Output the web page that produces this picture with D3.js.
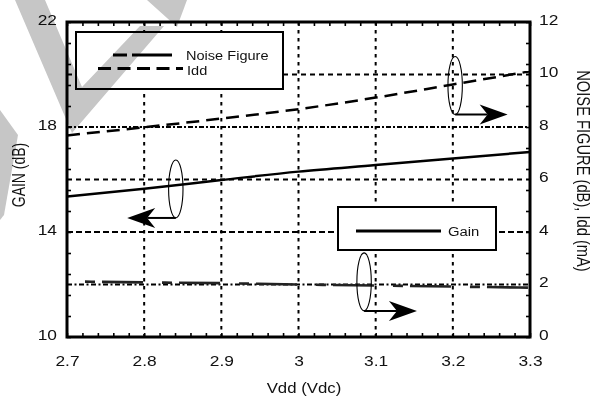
<!DOCTYPE html>
<html><head><meta charset="utf-8">
<script src="https://cdn.jsdelivr.net/npm/d3@7"></script>
<style>
html,body{margin:0;padding:0;background:#fff;}
svg{display:block;font-family:"Liberation Sans",Arial,Helvetica,sans-serif;}
</style></head><body>
<svg id="chart" width="598" height="402"></svg>
<script>
// ---- data ----
const vdd = [2.7, 2.8, 2.9, 3.0, 3.1, 3.2, 3.3];
const gainDb = [15.35, 15.65, 15.98, 16.3, 16.55, 16.8, 17.05];
const noiseFigureDb = [2.12, 2.08, 2.05, 2.0, 1.96, 1.92, 1.88];
const iddMa = [7.68, 7.99, 8.32, 8.68, 9.12, 9.62, 10.12];
const xTickLabels = [2.7, 2.8, 2.9, 3.0, 3.1, 3.2, 3.3];
const leftTickLabels = [10, 14, 18, 22];
const rightTickLabels = [0, 2, 4, 6, 8, 10, 12];
const gainGrid = [12, 14, 16, 18, 20];
const vddGrid = [2.8, 2.9, 3.0, 3.1, 3.2];

// ---- layout ----
const L = 67, R = 530, T = 22, B = 337;
const svg = d3.select("#chart");
const x = d3.scaleLinear().domain([2.7, 3.3]).range([L, R]);
const yL = d3.scaleLinear().domain([10, 22]).range([B, T]);
const yR = d3.scaleLinear().domain([0, 12]).range([B, T]);

const xMinor = d3.range(0, 31).map(i => 2.7 + i * 0.02);
const lMinor = d3.range(0, 16).map(i => 10 + i * 0.8);
const rMinor = d3.range(0, 16).map(i => i * 0.8);

svg.append("rect").attr("width", 598).attr("height", 402).attr("fill", "#fff");

// ---- grid ----
const hDash = {12: "5,2.5,2,2.5", 14: "6,3", 16: "5,4", 18: "5,2,2,2", 20: "5,4"};
svg.append("g").selectAll("line").data(gainGrid).join("line")
  .attr("x1", L).attr("x2", R).attr("y1", d => yL(d)).attr("y2", d => yL(d))
  .attr("stroke", "#000").attr("stroke-width", 1.8).attr("stroke-dasharray", d => hDash[d]);
svg.append("g").selectAll("line").data(vddGrid).join("line")
  .attr("x1", d => x(d)).attr("x2", d => x(d)).attr("y1", T).attr("y2", B)
  .attr("stroke", "#000").attr("stroke-width", 2).attr("stroke-dasharray", "3.5,4.5");

// ---- series ----
const pts = arr => vdd.map((v, i) => [v, arr[i]]);
const lineL = d3.line().x(d => x(d[0])).y(d => yL(d[1])).curve(d3.curveMonotoneX);
const lineR = d3.line().x(d => x(d[0])).y(d => yR(d[1])).curve(d3.curveMonotoneX);
svg.append("path").attr("d", lineL(pts(gainDb))).attr("fill", "none")
  .attr("stroke", "#000").attr("stroke-width", 2.5);
svg.append("path").attr("d", lineR(pts(iddMa))).attr("fill", "none")
  .attr("stroke", "#000").attr("stroke-width", 2.5).attr("stroke-dasharray", "13,7");
svg.append("path").attr("d", lineR(pts(noiseFigureDb))).attr("fill", "none")
  .attr("stroke", "#222").attr("stroke-width", 2.6)
  .attr("stroke-dasharray", "10,7,41,19").attr("stroke-dashoffset", 59);

// ---- legends ----
function stretchedText(g, str, tx, ty, size, sx, anchor) {
  return g.append("text").attr("transform", `translate(${tx},${ty}) scale(${sx},1)`)
    .attr("font-size", size).attr("text-anchor", anchor || "start").attr("fill", "#111").text(str);
}
const lg1 = svg.append("g");
lg1.append("rect").attr("x", 76).attr("y", 32).attr("width", 207).attr("height", 57)
  .attr("fill", "#fff").attr("stroke", "#000").attr("stroke-width", 2);
lg1.append("line").attr("x1", 113).attr("x2", 172).attr("y1", 55).attr("y2", 55)
  .attr("stroke", "#000").attr("stroke-width", 3).attr("stroke-dasharray", "14,5,41");
lg1.append("line").attr("x1", 98).attr("x2", 183).attr("y1", 68.5).attr("y2", 68.5)
  .attr("stroke", "#000").attr("stroke-width", 3).attr("stroke-dasharray", "13,6.5");
stretchedText(lg1, "Noise Figure", 186, 59.5, 13, 1.12);
stretchedText(lg1, "Idd", 187, 74.5, 13, 1.12);

const lg2 = svg.append("g");
lg2.append("rect").attr("x", 338).attr("y", 207).attr("width", 158).attr("height", 43)
  .attr("fill", "#fff").attr("stroke", "#000").attr("stroke-width", 2);
lg2.append("line").attr("x1", 356).attr("x2", 441).attr("y1", 231).attr("y2", 231)
  .attr("stroke", "#000").attr("stroke-width", 3);
stretchedText(lg2, "Gain", 448, 236, 13.5, 1.1);

// ---- annotations (ellipse + arrow pointing to the axis used) ----
const notes = [
  {cx: 3.203, cy: 9.58, scale: yR, tip: 3.271},
  {cx: 2.841, cy: 15.64, scale: yL, tip: 2.778},
  {cx: 3.085, cy: 2.10, scale: yR, tip: 3.1535}
];
const ag = svg.append("g");
notes.forEach(n => {
  const cx = x(n.cx), cy = n.scale(n.cy), rx = 7.2, ry = 29;
  ag.append("ellipse").attr("cx", cx).attr("cy", cy).attr("rx", rx).attr("ry", ry)
    .attr("fill", "none").attr("stroke", "#000").attr("stroke-width", 1.1);
  const ay = cy + ry, tx = x(n.tip), dir = tx > cx ? 1 : -1;
  const back = tx - dir * 28, notch = tx - dir * 20;
  ag.append("line").attr("x1", cx).attr("x2", notch).attr("y1", ay).attr("y2", ay)
    .attr("stroke", "#000").attr("stroke-width", 2);
  ag.append("path").attr("d", `M${tx},${ay}L${back},${ay - 10}L${notch},${ay}L${back},${ay + 10}Z`)
    .attr("fill", "#000");
});

// ---- axes: minor ticks (inward) ----
const tickStyle = g => { g.select(".domain").remove(); g.selectAll("line").attr("stroke", "#000").attr("stroke-width", 1.6); };
svg.append("g").attr("transform", `translate(0,${B})`)
  .call(d3.axisBottom(x).tickValues(xMinor).tickSize(-4).tickFormat("")).call(tickStyle);
svg.append("g").attr("transform", `translate(0,${T})`)
  .call(d3.axisTop(x).tickValues(xMinor).tickSize(-4).tickFormat("")).call(tickStyle);
svg.append("g").attr("transform", `translate(${L},0)`)
  .call(d3.axisLeft(yL).tickValues(lMinor).tickSize(-4).tickFormat("")).call(tickStyle);
svg.append("g").attr("transform", `translate(${R},0)`)
  .call(d3.axisRight(yR).tickValues(rMinor).tickSize(-4).tickFormat("")).call(tickStyle);

// ---- frame ----
svg.append("rect").attr("x", L).attr("y", T).attr("width", R - L).attr("height", B - T)
  .attr("fill", "none").attr("stroke", "#000").attr("stroke-width", 3);

// ---- tick labels ----
const SX = 1.12, FS = 15.5;
const labStyle = g => { g.select(".domain").remove(); g.selectAll("line").remove();
  g.selectAll("text").attr("font-size", FS).attr("font-family", "Liberation Sans, Arial, sans-serif").attr("fill", "#111"); };
svg.append("g").attr("transform", `translate(0,${B})`)
  .call(d3.axisBottom(x).tickValues(xTickLabels).tickSize(0).tickFormat(d => String(+d.toFixed(1))))
  .call(labStyle)
  .call(g => g.selectAll("text").attr("y", 29.5).attr("dy", 0).attr("transform", `scale(${SX},1)`).attr("x", 0));
svg.append("g").attr("transform", `translate(${L},0)`)
  .call(d3.axisLeft(yL).tickValues(leftTickLabels).tickSize(0).tickFormat(d3.format("d")))
  .call(labStyle)
  .call(g => g.selectAll("text").attr("x", -10 / SX).attr("dy", "0.15em").attr("transform", `scale(${SX},1)`));
svg.append("g").attr("transform", `translate(${R},0)`)
  .call(d3.axisRight(yR).tickValues(rightTickLabels).tickSize(0).tickFormat(d3.format("d")))
  .call(labStyle)
  .call(g => g.selectAll("text").attr("x", 9 / SX).attr("dy", "0.15em").attr("transform", `scale(${SX},1)`));

// ---- axis titles ----
svg.append("text").attr("transform", "translate(304,393) scale(1.2,1)")
  .attr("text-anchor", "middle").attr("font-size", 14).attr("fill", "#111").text("Vdd (Vdc)");
svg.append("text").attr("transform", "translate(25,175) scale(1.25,1) rotate(-90)")
  .attr("text-anchor", "middle").attr("font-size", 14).attr("fill", "#111").text("GAIN (dB)");
svg.append("text").attr("transform", "translate(577,171) scale(1.2,1) rotate(90)")
  .attr("text-anchor", "middle").attr("font-size", 14.7).attr("fill", "#111").text("NOISE FIGURE (dB), Idd (mA)");

// ---- grey watermark fragments ----
const wm = svg.append("g").style("mix-blend-mode", "multiply");
[
  [[15,0],[45,0],[82,87],[140,26],[164,26],[72,133]],
  [[147,0],[187,0],[177,27]],
  [[0,110],[18,135],[4,215],[0,220]]
].forEach(p => wm.append("polygon").attr("points", p.map(q => q.join(",")).join(" "))
  .attr("fill", "#c6c6c6").style("mix-blend-mode", "multiply"));
</script>
</body></html>
